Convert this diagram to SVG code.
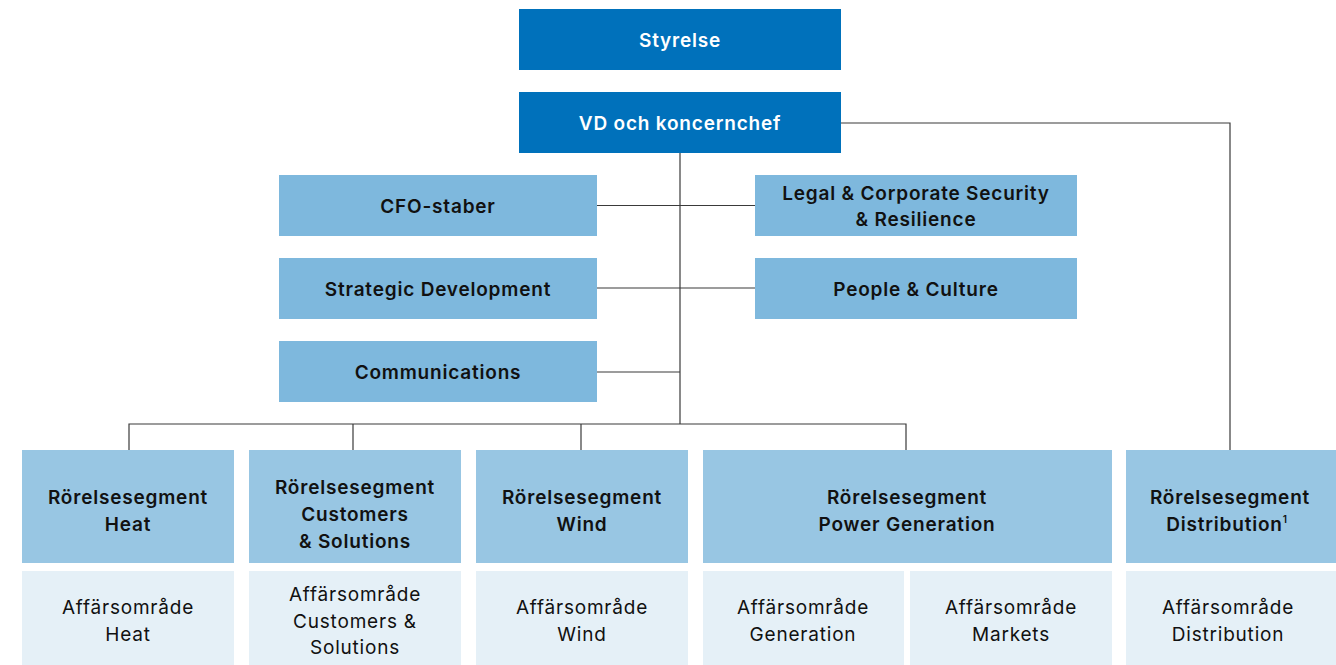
<svg xmlns="http://www.w3.org/2000/svg" width="1336" height="665" viewBox="0 0 1336 665">
<style>
.top{fill:#0071BB}
.staff{fill:#7EB8DD}
.seg{fill:#98C6E3}
.area{fill:#E5F0F7}
text{font-family:Inter,"Liberation Sans",Arial,sans-serif;font-size:19px;letter-spacing:0.8px;text-anchor:middle;fill:#111}
.w{fill:#fff;font-weight:600}
.b{font-weight:600}
.r{font-weight:400}
.ln{stroke:#3a3a3a;stroke-width:1.2;fill:none}
</style>
<rect width="1336" height="665" fill="#fff"/>
<g id="connectors">
<path class="ln" d="M680,153 V424"/>
<path class="ln" d="M597,205.5 H755"/>
<path class="ln" d="M597,288 H755"/>
<path class="ln" d="M597,372 H680"/>
<path class="ln" d="M129,450 V424 H906 V450"/>
<path class="ln" d="M353,424 V450"/>
<path class="ln" d="M581,424 V450"/>
<path class="ln" d="M841,123 H1230 V450"/>
</g>
<g id="styrelse"><rect class="top" x="519" y="9" width="322" height="61"/><text class="w" x="680" y="46.5">Styrelse</text></g>
<g id="vd"><rect class="top" x="519" y="92" width="322" height="61"/><text class="w" x="680" y="129.5">VD och koncernchef</text></g>
<g id="cfo"><rect class="staff" x="279" y="175" width="318" height="61"/><text class="b" x="438" y="212.5">CFO-staber</text></g>
<g id="legal"><rect class="staff" x="755" y="175" width="322" height="61"/><text class="b" x="916" y="199.5">Legal &amp; Corporate Security</text><text class="b" x="916" y="225.5">&amp; Resilience</text></g>
<g id="strategic"><rect class="staff" x="279" y="258" width="318" height="61"/><text class="b" x="438" y="295.5">Strategic Development</text></g>
<g id="people"><rect class="staff" x="755" y="258" width="322" height="61"/><text class="b" x="916" y="295.5">People &amp; Culture</text></g>
<g id="communications"><rect class="staff" x="279" y="341" width="318" height="61"/><text class="b" x="438" y="378.5">Communications</text></g>
<g id="seg-heat"><rect class="seg" x="22" y="450" width="212" height="113"/><text class="b" x="128" y="503.5">Rörelsesegment</text><text class="b" x="128" y="530.5">Heat</text></g>
<g id="seg-cs"><rect class="seg" x="249" y="450" width="212" height="113"/><text class="b" x="355" y="493.5">Rörelsesegment</text><text class="b" x="355" y="520.5">Customers</text><text class="b" x="355" y="547.5">&amp; Solutions</text></g>
<g id="seg-wind"><rect class="seg" x="476" y="450" width="212" height="113"/><text class="b" x="582" y="503.5">Rörelsesegment</text><text class="b" x="582" y="530.5">Wind</text></g>
<g id="seg-power"><rect class="seg" x="703" y="450" width="409" height="113"/><text class="b" x="907" y="503.5">Rörelsesegment</text><text class="b" x="907" y="530.5">Power Generation</text></g>
<g id="seg-dist"><rect class="seg" x="1126" y="450" width="210" height="113"/><text class="b" x="1230" y="503.5">Rörelsesegment</text><text class="b" x="1227" y="530.5">Distribution<tspan font-size="10" dy="-8">1</tspan></text></g>
<g id="area-heat"><rect class="area" x="22" y="571" width="212" height="94"/><text class="r" x="128" y="613.5">Affärsområde</text><text class="r" x="128" y="640.5">Heat</text></g>
<g id="area-cs"><rect class="area" x="249" y="571" width="212" height="94"/><text class="r" x="355" y="600.5">Affärsområde</text><text class="r" x="355" y="627.5">Customers &amp;</text><text class="r" x="355" y="653.5">Solutions</text></g>
<g id="area-wind"><rect class="area" x="476" y="571" width="212" height="94"/><text class="r" x="582" y="613.5">Affärsområde</text><text class="r" x="582" y="640.5">Wind</text></g>
<g id="area-gen"><rect class="area" x="703" y="571" width="201" height="94"/><text class="r" x="803" y="613.5">Affärsområde</text><text class="r" x="803" y="640.5">Generation</text></g>
<g id="area-markets"><rect class="area" x="910" y="571" width="202" height="94"/><text class="r" x="1011" y="613.5">Affärsområde</text><text class="r" x="1011" y="640.5">Markets</text></g>
<g id="area-dist"><rect class="area" x="1126" y="571" width="210" height="94"/><text class="r" x="1228" y="613.5">Affärsområde</text><text class="r" x="1228" y="640.5">Distribution</text></g>
</svg>
